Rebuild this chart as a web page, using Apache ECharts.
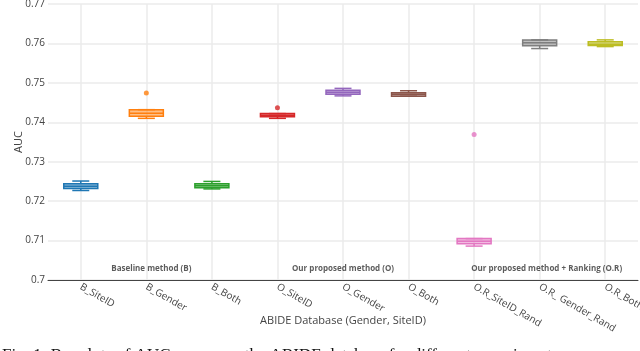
<!DOCTYPE html>
<html>
<head>
<meta charset="utf-8">
<script src="https://cdn.jsdelivr.net/npm/echarts@6/dist/echarts.min.js"></script>
<style>
  html, body { margin: 0; padding: 0; background: #fff; }
  #main { width: 640px; height: 351px; }
</style>
</head>
<body>
<div id="main"></div>
<script>
// categories on the x axis
var categories = ["B_SiteID", "B_Gender", "B_Both", "O_SiteID", "O_Gender", "O_Both",
  "O.R_SiteID_Rand", "O.R_ Gender_Rand", "O.R_Both"];
var colors = ["#1f77b4", "#ff7f0e", "#2ca02c", "#d62728", "#9467bd", "#8c564b",
  "#e377c2", "#7f7f7f", "#bcbd22"];

// box stats per category
var boxMin    = [0.7227, 0.7410, 0.7231, 0.7410, 0.7467, 0.7466, 0.7086, 0.7587, 0.7592];
var boxQ1     = [0.7232, 0.7415, 0.7234, 0.7414, 0.7471, 0.7466, 0.7092, 0.7594, 0.7595];
var boxMedian = [0.7238, 0.7423, 0.7239, 0.7418, 0.7476, 0.7471, 0.7098, 0.7602, 0.7598];
var boxQ3     = [0.7244, 0.7432, 0.7244, 0.7422, 0.7481, 0.7475, 0.7105, 0.7609, 0.7604];
var boxMax    = [0.7251, 0.7432, 0.7250, 0.7422, 0.7486, 0.7480, 0.7105, 0.7609, 0.7609];

// outliers: category index + value
var outlierCat = [1, 3, 6];
var outlierVal = [0.7474, 0.7437, 0.7369];

// y ticks
var yMin = 0.7, yMax = 0.77, yStep = 0.01;

// group annotations
var annoText = ["Baseline method (B)", "Our proposed method (O)", "Our proposed method + Ranking (O.R)"];
var annoCat = [1, 4, 7];
var annoVal = [0.7029, 0.7029, 0.7029];
var annoShift = [5, 0, 7];

function hexA(hex, a) {
  var n = parseInt(hex.slice(1), 16);
  return "rgba(" + (n >> 16) + "," + ((n >> 8) & 255) + "," + (n & 255) + "," + a + ")";
}

var boxData = categories.map(function (c, i) {
  return [i, boxMin[i], boxQ1[i], boxMedian[i], boxQ3[i], boxMax[i]];
});
var outData = outlierCat.map(function (c, i) {
  return { value: [c, outlierVal[i]], itemStyle: { color: colors[c] } };
});
var annoData = annoText.map(function (t, i) {
  return {
    value: [annoCat[i], annoVal[i]],
    label: { formatter: t, offset: [annoShift[i], 0] }
  };
});

// plotly-like box: half width caps on whiskers
function renderBox(params, api) {
  var i = api.value(0);
  var col = colors[params.dataIndex];
  var pMin = api.coord([i, api.value(1)]);
  var pQ1 = api.coord([i, api.value(2)]);
  var pMed = api.coord([i, api.value(3)]);
  var pQ3 = api.coord([i, api.value(4)]);
  var pMax = api.coord([i, api.value(5)]);
  var cx = pMed[0], hw = 17, cw = 8.5;
  var line = { stroke: col, lineWidth: 1.5 };
  return {
    type: "group",
    children: [
      { type: "line", shape: { x1: cx, y1: pQ3[1], x2: cx, y2: pMax[1] }, style: line },
      { type: "line", shape: { x1: cx, y1: pQ1[1], x2: cx, y2: pMin[1] }, style: line },
      { type: "line", shape: { x1: cx - cw, y1: pMax[1], x2: cx + cw, y2: pMax[1] }, style: line },
      { type: "line", shape: { x1: cx - cw, y1: pMin[1], x2: cx + cw, y2: pMin[1] }, style: line },
      {
        type: "rect",
        shape: { x: cx - hw, y: pQ3[1], width: hw * 2, height: Math.max(pQ1[1] - pQ3[1], 1) },
        style: { fill: hexA(col, 0.5), stroke: col, lineWidth: 1.5 }
      },
      { type: "line", shape: { x1: cx - hw, y1: pMed[1], x2: cx + hw, y2: pMed[1] }, style: line }
    ]
  };
}

var chart = echarts.init(document.getElementById("main"));
chart.setOption({
  animation: false,
  textStyle: { fontFamily: "Open Sans" },
  grid: { left: 48, right: 2, top: 4, bottom: 71, containLabel: false, outerBoundsMode: "none" },
  xAxis: {
    type: "category",
    data: categories,
    boundaryGap: true,
    name: "ABIDE Database (Gender, SiteID)",
    nameLocation: "middle",
    nameGap: 35,
    nameMoveOverlap: false,
    nameTextStyle: { color: "#444", fontSize: 11 },
    axisLine: { lineStyle: { color: "#444", width: 1 } },
    axisTick: { alignWithLabel: true, length: 4, lineStyle: { color: "#444" } },
    axisLabel: { rotate: -30, color: "#444", fontSize: 10, margin: 6, interval: 0 },
    splitLine: { show: true, alignWithLabel: true, lineStyle: { color: "#ebebeb", width: 1.5 } }
  },
  yAxis: {
    type: "value",
    min: yMin,
    max: yMax,
    interval: yStep,
    name: "AUC",
    nameLocation: "middle",
    nameGap: 24,
    nameMoveOverlap: false,
    nameTextStyle: { color: "#444", fontSize: 11 },
    axisLine: { show: false },
    axisTick: { show: false },
    axisLabel: {
      color: "#444", fontSize: 10, margin: 3,
      formatter: function (v) { return String(+v.toFixed(2)); }
    },
    splitLine: { lineStyle: { color: "#ebebeb", width: 1.5 } }
  },
  series: [
    {
      type: "custom",
      data: boxData,
      encode: { x: 0, y: [1, 2, 3, 4, 5] },
      renderItem: renderBox
    },
    {
      type: "scatter",
      data: outData,
      symbolSize: 5
    },
    {
      type: "scatter",
      data: annoData,
      symbolSize: 0,
      silent: true,
      label: {
        show: true,
        position: "inside",
        color: "#333",
        fontSize: 8,
        fontWeight: "bold"
      }
    }
  ],
  graphic: [
    {
      type: "text",
      left: 2,
      top: 347,
      style: {
        text: "Fig. 1: Boxplots of AUC curves on the ABIDE database for different experiments",
        font: "17px 'Liberation Serif'",
        fill: "#111"
      }
    }
  ]
});
</script>
</body>
</html>
